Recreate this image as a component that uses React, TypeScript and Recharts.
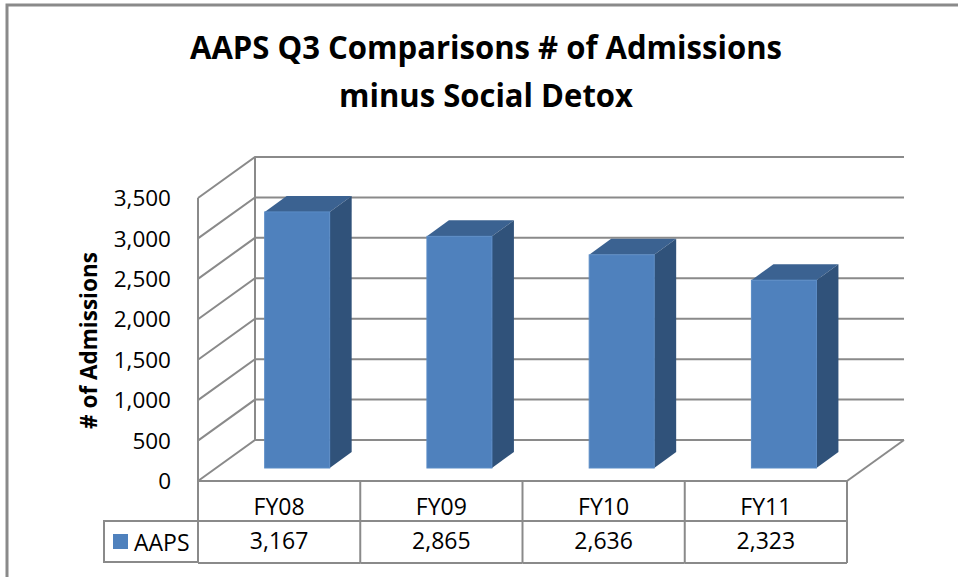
import React from "react";
import { BarChart, Bar, XAxis, YAxis, CartesianGrid, Legend, Label } from "recharts";

const categories = ["FY08", "FY09", "FY10", "FY11"];
const aapsValues = [3167, 2865, 2636, 2323];
const yTicks = [0, 500, 1000, 1500, 2000, 2500, 3000, 3500];
const seriesName = "AAPS";
const titleLines = ["AAPS Q3 Comparisons # of Admissions", "minus Social Detox"];
const yAxisTitle = "# of Admissions";

const data = categories.map((c, i) => ({ category: c, AAPS: aapsValues[i] }));

// 3D depth of the walls / bars
const DX = 57;
const DY = 41;
const BAR_OX = 18;
const BAR_OY = 13;
const BAR_DX = 22;
const BAR_DY = 16;

const FONT = '"Open Sans", sans-serif';
const LINE = "#8a8a8a";
const FRONT = "#4F81BD";
const TOP = "#3B6291";
const SIDE = "#30527A";

function WallLine(props: any) {
  const { x1, x2, y1, y, height } = props;
  const isFloor = typeof y === "number" && typeof height === "number" && Math.abs(y1 - (y + height)) < 1;
  const isTop = typeof y === "number" && Math.abs(y1 - y) < 1;
  return (
    <g>
      <path
        d={`M${x1},${y1} L${x1 + DX},${y1 - DY} L${x2 + DX},${y1 - DY}`}
        fill="none"
        stroke={LINE}
        strokeWidth={2}
      />
      {isFloor && (
        <path d={`M${x2},${y1} L${x2 + DX},${y1 - DY}`} fill="none" stroke={LINE} strokeWidth={2} />
      )}
      {isTop && (
        <path
          d={`M${x1 + DX},${y1 - DY} L${x1 + DX},${y1 - DY + height}`}
          fill="none"
          stroke={LINE}
          strokeWidth={2}
        />
      )}
    </g>
  );
}

function Box3D(props: any) {
  const { x, y, width, height } = props;
  if (!height || height <= 0) return null;
  const fx = x + BAR_OX;
  const fy = y - BAR_OY;
  return (
    <g>
      <polygon
        points={`${fx},${fy} ${fx + BAR_DX},${fy - BAR_DY} ${fx + width + BAR_DX},${fy - BAR_DY} ${fx + width},${fy}`}
        fill={TOP}
      />
      <polygon
        points={`${fx + width},${fy} ${fx + width + BAR_DX},${fy - BAR_DY} ${fx + width + BAR_DX},${fy + height - BAR_DY} ${fx + width},${fy + height}`}
        fill={SIDE}
      />
      <rect x={fx} y={fy} width={width} height={height} fill={FRONT} stroke="#5b8cc6" strokeWidth={1} />
    </g>
  );
}

function YTick(props: any) {
  const { x, y, payload } = props;
  return (
    <text x={x} y={y} dy="0.36em" textAnchor="end" fontFamily={FONT} fontSize={22.5} fill="#000">
      {Number(payload.value).toLocaleString("en-US")}
    </text>
  );
}

function TableTick(props: any) {
  const { x, y, payload, index, width } = props;
  const band = typeof width === "number" && width > 0 ? width / categories.length : 162.25;
  const left = x - band / 2;
  const right = x + band / 2;
  const v = aapsValues[index];
  return (
    <g>
      {index === 0 && <line x1={left} y1={y} x2={left} y2={y + 82} stroke={LINE} strokeWidth={2} />}
      <line x1={right} y1={y} x2={right} y2={y + 82} stroke={LINE} strokeWidth={2} />
      <line x1={left} y1={y + 40} x2={right} y2={y + 40} stroke={LINE} strokeWidth={2} />
      <line x1={left} y1={y + 82} x2={right} y2={y + 82} stroke={LINE} strokeWidth={2} />
      <text x={x} y={y + 34} textAnchor="middle" fontFamily={FONT} fontSize={23} fill="#000">
        {payload.value}
      </text>
      <text x={x} y={y + 68} textAnchor="middle" fontFamily={FONT} fontSize={23} fill="#000">
        {v != null ? v.toLocaleString("en-US") : ""}
      </text>
    </g>
  );
}

function LegendCell(props: any) {
  const item = (props.payload && props.payload[0]) || { value: seriesName, color: FRONT };
  return (
    <div
      style={{
        boxSizing: "border-box",
        width: 96,
        height: 43,
        borderLeft: `2px solid ${LINE}`,
        borderTop: `2px solid ${LINE}`,
        borderBottom: `2px solid ${LINE}`,
        display: "flex",
        alignItems: "center",
        fontFamily: FONT,
        fontSize: 23,
        color: "#000",
      }}
    >
      <span style={{ display: "inline-block", width: 15, height: 15, background: FRONT, marginLeft: 8, marginRight: 6 }} />
      <span>{item.value}</span>
    </div>
  );
}

function YTitle(props: any) {
  const vb = props.viewBox || { x: 0, y: 198, width: 198, height: 283 };
  const cx = vb.x + 97;
  const cy = vb.y + vb.height / 2 + 1;
  return (
    <text
      x={cx}
      y={cy}
      textAnchor="middle"
      transform={`rotate(-90, ${cx}, ${cy})`}
      fontFamily={FONT}
      fontWeight="bold"
      fontSize={22.5}
      fill="#000"
    >
      {yAxisTitle}
    </text>
  );
}

export default function App() {
  return (
    <div style={{ position: "absolute", left: 0, top: 0, width: 958, height: 577, background: "#fff", overflow: "hidden" }}>
      <svg width={958} height={577} style={{ position: "absolute", left: 0, top: 0 }}>
        <rect x={7} y={5} width={1000} height={700} fill="none" stroke={LINE} strokeWidth={3} />
        <text
          x={486}
          y={59}
          textAnchor="middle"
          fontFamily={FONT}
          fontWeight="bold"
          fontSize={33}
          textLength={592}
          lengthAdjust="spacingAndGlyphs"
          fill="#000"
        >
          {titleLines[0]}
        </text>
        <text
          x={486}
          y={107}
          textAnchor="middle"
          fontFamily={FONT}
          fontWeight="bold"
          fontSize={33}
          textLength={294}
          lengthAdjust="spacingAndGlyphs"
          fill="#000"
        >
          {titleLines[1]}
        </text>
      </svg>
      <div style={{ position: "absolute", left: 0, top: 0 }}>
        <BarChart
          width={958}
          height={577}
          data={data}
          margin={{ top: 198, right: 111, bottom: 14, left: 0 }}
          barCategoryGap="30%"
        >
          <CartesianGrid vertical={false} horizontal={(p: any) => <WallLine {...p} />} />
          <YAxis
            width={198}
            domain={[0, 3500]}
            ticks={yTicks}
            interval={0}
            tickSize={0}
            tickMargin={27}
            tickLine={false}
            axisLine={{ stroke: LINE, strokeWidth: 2 }}
            tick={(p: any) => <YTick {...p} />}
          >
            <Label content={(p: any) => <YTitle {...p} />} />
          </YAxis>
          <XAxis
            dataKey="category"
            height={82}
            interval={0}
            tickSize={0}
            tickMargin={0}
            tickLine={false}
            axisLine={{ stroke: LINE, strokeWidth: 2 }}
            tick={(p: any) => <TableTick {...p} />}
          />
          <Legend
            layout="horizontal"
            verticalAlign="middle"
            align="center"
            wrapperStyle={{ position: "absolute", left: 103, top: 520, width: 96, height: 43 }}
            content={(p: any) => <LegendCell {...p} />}
          />
          <Bar dataKey="AAPS" name={seriesName} fill={FRONT} isAnimationActive={false} shape={(p: any) => <Box3D {...p} />} />
        </BarChart>
      </div>
    </div>
  );
}
